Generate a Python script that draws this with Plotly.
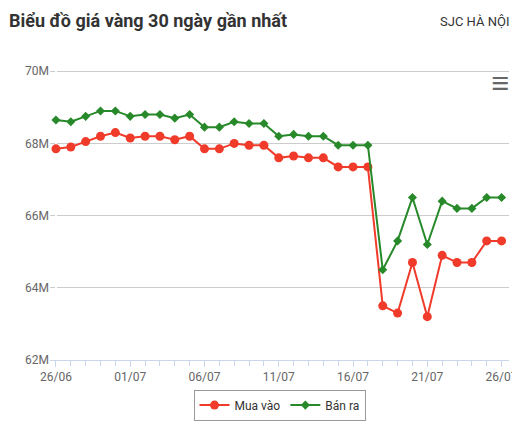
import plotly.graph_objects as go

dates = ["26/06","27/06","28/06","29/06","30/06"] + [f"{d:02d}/07" for d in range(1, 27)]
mua_vao = [67.85,67.9,68.05,68.2,68.3,68.15,68.2,68.2,68.1,68.2,67.85,67.85,68.0,67.95,67.95,
           67.6,67.65,67.6,67.6,67.35,67.35,67.35,63.5,63.3,64.7,63.2,64.9,64.7,64.7,65.3,65.3]
ban_ra = [68.65,68.6,68.75,68.9,68.9,68.75,68.8,68.8,68.7,68.8,68.45,68.45,68.6,68.55,68.55,
          68.2,68.25,68.2,68.2,67.95,67.95,67.95,64.5,65.3,66.5,65.2,66.4,66.2,66.2,66.5,66.5]
y_ticks = [62, 64, 66, 68, 70]
y_labels = ["62M", "64M", "66M", "68M", "70M"]

idx = list(range(len(dates)))
fig = go.Figure()
fig.add_trace(go.Scatter(x=idx, y=mua_vao, name="Mua vào", mode="lines+markers",
                         line=dict(color="#f03a2a", width=2), marker=dict(size=9, color="#f03a2a")))
fig.add_trace(go.Scatter(x=idx, y=ban_ra, name="Bán ra", mode="lines+markers",
                         line=dict(color="#27892a", width=2),
                         marker=dict(size=7, color="#27892a", symbol="diamond")))
fig.update_layout(
    width=520, height=423, margin=dict(l=42, r=10, t=56, b=64),
    paper_bgcolor="white", plot_bgcolor="white",
    font=dict(family="Roboto", color="#555"),
    showlegend=True,
    legend=dict(orientation="h", x=0.5, xanchor="center", y=-0.1, yanchor="top",
                bordercolor="#999", borderwidth=1, font=dict(size=12, color="#333")),
    xaxis=dict(range=[-0.4, 30.5], tickvals=idx[::5], ticktext=dates[::5],
               showgrid=False, showline=True, linecolor="#ccd6eb", ticks="outside",
               tickcolor="#ccd6eb", ticklen=6, tickfont=dict(size=12, color="#666"),
               minor=dict(tickvals=idx, ticks="outside", ticklen=5, tickcolor="#ccd6eb")),
    yaxis=dict(range=[62, 70.2], tickvals=y_ticks, ticktext=y_labels, gridcolor="#cccccc",
               zeroline=False, tickfont=dict(size=12, color="#666")),
    annotations=[
        dict(text="<b>Biểu đồ giá vàng 30 ngày gần nhất</b>", x=0, y=1, xref="paper", yref="paper",
             xanchor="left", yanchor="top", showarrow=False, font=dict(size=18, color="#333"),
             xshift=-43, yshift=56),
        dict(text="SJC HÀ NỘI", x=1, y=1, xref="paper", yref="paper", xanchor="right",
             yanchor="top", showarrow=False, font=dict(size=13, color="#333"), xshift=2, yshift=52),
        dict(text="<b>≡</b>", x=1, y=1, xref="paper", yref="paper", xanchor="right", yanchor="top",
             showarrow=False, font=dict(size=32, color="#666"), xshift=2, yshift=2),
    ],
)
fig.write_html("out.html")
